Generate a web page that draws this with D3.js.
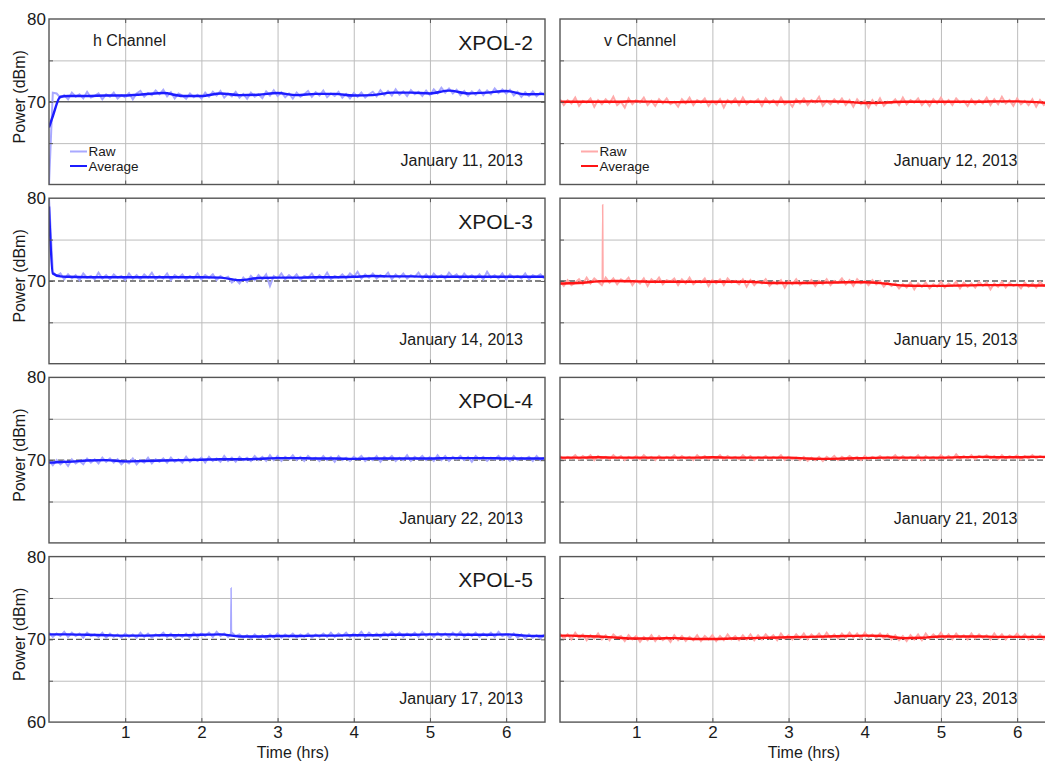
<!DOCTYPE html>
<html>
<head>
<meta charset="utf-8">
<script src="https://cdn.jsdelivr.net/npm/d3@7"></script>
<style>
  body { margin: 0; background: #fff; }
  text { font-family: "Liberation Sans", Arial, sans-serif; fill: #1a1a1a; }
</style>
</head>
<body>
<svg id="chart" width="1045" height="764"></svg>
<script>
// --- data ---
var stations = ["XPOL-2", "XPOL-3", "XPOL-4", "XPOL-5"];
var hDates = ["January 11, 2013", "January 14, 2013", "January 22, 2013", "January 17, 2013"];
var vDates = ["January 12, 2013", "January 15, 2013", "January 21, 2013", "January 23, 2013"];
var hourTicks = [1, 2, 3, 4, 5, 6];
var rawEnd = 6.5;   // raw samples evenly spread over 0..6.5 hrs

// time of each point of the averaged curves
var avgTime = [0, 0.05, 0.15, 0.25, 0.5, 0.75, 1, 1.25, 1.5, 1.75, 2, 2.25, 2.5, 2.75, 3, 3.25, 3.5, 3.75, 4, 4.25, 4.5, 4.75, 5, 5.25, 5.5, 5.75, 6, 6.25, 6.5];

var hAvg2 = [66.9, 68.25, 70.6, 70.7, 70.7, 70.75, 70.75, 70.9, 71.05, 70.7, 70.7, 71.0, 70.8, 70.85, 71.05, 70.8, 70.95, 70.95, 70.75, 70.8, 71.1, 71.1, 71.0, 71.35, 71.0, 71.1, 71.3, 70.9, 70.95];
var hAvg3 = [79.0, 70.9, 70.55, 70.5, 70.45, 70.45, 70.45, 70.45, 70.45, 70.45, 70.45, 70.4, 70.1, 70.35, 70.4, 70.4, 70.45, 70.45, 70.5, 70.6, 70.55, 70.55, 70.5, 70.5, 70.5, 70.5, 70.5, 70.5, 70.5];
var hAvg4 = [69.7, 69.72, 69.78, 69.8, 69.95, 70.0, 69.85, 69.9, 69.95, 70.0, 70.05, 70.1, 70.1, 70.15, 70.25, 70.25, 70.2, 70.2, 70.15, 70.2, 70.2, 70.2, 70.2, 70.25, 70.25, 70.25, 70.2, 70.2, 70.2];
var hAvg5 = [70.6, 70.6, 70.6, 70.6, 70.55, 70.5, 70.45, 70.45, 70.5, 70.5, 70.55, 70.6, 70.35, 70.35, 70.4, 70.4, 70.45, 70.45, 70.5, 70.5, 70.55, 70.55, 70.6, 70.6, 70.55, 70.55, 70.6, 70.45, 70.4];

var vAvg2 = [70.0, 70.0, 70.0, 70.0, 70.0, 70.0, 70.05, 70.0, 69.95, 70.0, 70.0, 70.0, 70.0, 70.0, 70.0, 70.05, 70.05, 70.0, 69.85, 69.9, 70.0, 70.0, 70.0, 70.0, 70.0, 70.05, 70.05, 69.95, 69.8];
var vAvg3 = [69.7, 69.7, 69.72, 69.75, 69.95, 70.0, 69.95, 69.9, 69.9, 69.9, 69.9, 69.9, 69.9, 69.75, 69.75, 69.75, 69.8, 69.85, 69.85, 69.7, 69.45, 69.4, 69.4, 69.45, 69.5, 69.5, 69.5, 69.45, 69.45];
var vAvg4 = [70.3, 70.3, 70.3, 70.3, 70.35, 70.3, 70.3, 70.3, 70.3, 70.3, 70.35, 70.3, 70.3, 70.3, 70.3, 70.2, 70.15, 70.2, 70.25, 70.3, 70.3, 70.3, 70.3, 70.35, 70.4, 70.35, 70.35, 70.4, 70.4];
var vAvg5 = [70.45, 70.45, 70.45, 70.4, 70.35, 70.2, 70.1, 70.1, 70.15, 70.05, 70.05, 70.1, 70.15, 70.2, 70.25, 70.3, 70.35, 70.4, 70.45, 70.4, 70.15, 70.2, 70.35, 70.35, 70.35, 70.3, 70.3, 70.3, 70.3];

var hRaw2 = [60.0, 71.1, 71.0, 70.5, 70.8, 70.3, 71.1, 70.6, 70.9, 70.4, 71.2, 70.5, 70.7, 71.0, 70.3, 70.9, 70.6, 71.1, 70.4, 70.8, 70.55, 71.05, 70.3, 71.0, 71.3, 70.6, 71.05, 70.8, 71.35, 70.9, 71.45, 70.65, 71.15, 70.4, 71.0, 70.75, 70.35, 71.0, 70.55, 70.85, 70.4, 71.1, 70.6, 71.2, 70.75, 71.3, 70.5, 71.0, 70.65, 71.2, 70.5, 70.95, 70.35, 71.1, 70.6, 70.9, 70.45, 71.25, 70.75, 71.4, 70.7, 71.15, 70.55, 71.0, 70.4, 71.1, 70.6, 70.9, 71.3, 70.6, 71.15, 70.75, 71.35, 70.55, 71.0, 70.7, 71.2, 70.5, 70.95, 70.4, 71.05, 70.6, 71.1, 70.5, 70.9, 71.2, 70.65, 71.4, 70.8, 71.3, 70.75, 71.5, 70.85, 71.25, 70.7, 71.4, 70.9, 71.2, 70.7, 71.35, 70.8, 71.5, 71.0, 71.7, 71.1, 71.6, 71.0, 71.45, 70.8, 71.3, 70.7, 71.25, 70.85, 71.4, 70.8, 71.35, 70.9, 71.6, 71.05, 71.5, 71.0, 71.45, 70.75, 71.2, 70.6, 71.15, 70.7, 71.25, 70.65, 71.1, 70.8];
var hRaw3 = [80.0, 71.1, 70.6, 70.9, 70.2, 70.8, 70.3, 70.7, 70.1, 70.9, 70.4, 70.6, 70.2, 71.0, 70.3, 70.7, 70.2, 70.8, 70.4, 70.6, 70.1, 70.9, 70.3, 70.7, 70.2, 70.8, 70.4, 71.0, 70.2, 70.6, 70.3, 70.9, 70.1, 70.7, 70.4, 70.8, 70.2, 70.6, 70.3, 70.9, 70.2, 70.7, 70.4, 70.8, 70.1, 70.6, 70.3, 70.5, 69.8, 70.2, 69.7, 70.4, 69.9, 70.6, 70.1, 70.7, 70.2, 70.8, 69.4, 70.6, 70.3, 70.9, 70.2, 70.7, 70.3, 70.8, 70.1, 70.6, 70.4, 70.9, 70.2, 70.7, 70.3, 71.0, 70.2, 70.6, 70.4, 70.8, 70.3, 70.9, 70.5, 71.1, 70.3, 70.8, 70.4, 70.9, 70.3, 70.7, 70.5, 71.0, 70.2, 70.8, 70.4, 70.9, 70.3, 70.7, 70.5, 71.0, 70.3, 70.8, 70.2, 70.9, 70.4, 70.7, 70.3, 71.0, 70.5, 70.8, 70.2, 70.9, 70.4, 70.7, 70.3, 70.8, 70.2, 71.1, 70.4, 70.7, 70.3, 70.9, 70.2, 70.8, 70.4, 70.6, 70.3, 70.9, 70.2, 70.7, 70.5, 70.8, 70.3];
var hRaw4 = [69.9, 69.4, 70.0, 69.5, 69.9, 69.3, 70.1, 69.6, 69.9, 69.5, 70.2, 69.7, 70.1, 69.6, 70.3, 69.8, 70.2, 69.7, 70.1, 69.5, 69.9, 69.6, 70.2, 69.5, 70.0, 69.7, 70.3, 69.6, 70.1, 69.8, 70.2, 69.7, 70.3, 69.8, 70.1, 69.7, 70.4, 69.8, 70.2, 69.9, 70.3, 69.7, 70.4, 69.9, 70.2, 69.8, 70.5, 69.9, 70.3, 69.8, 70.4, 70.0, 70.3, 69.9, 70.5, 70.0, 70.4, 69.9, 70.6, 70.0, 70.5, 69.9, 70.4, 70.1, 70.6, 70.0, 70.4, 69.9, 70.5, 70.1, 70.3, 69.9, 70.5, 70.0, 70.4, 69.8, 70.5, 70.0, 70.3, 69.9, 70.4, 70.1, 70.5, 69.9, 70.3, 70.0, 70.5, 69.8, 70.4, 70.1, 70.5, 69.9, 70.3, 70.0, 70.6, 69.9, 70.4, 70.1, 70.5, 70.0, 70.4, 69.9, 70.6, 70.0, 70.5, 69.9, 70.4, 70.1, 70.5, 70.0, 70.4, 69.8, 70.5, 70.1, 70.4, 69.9, 70.3, 70.1, 70.5, 70.0, 70.4, 69.9, 70.5, 70.0, 70.3, 70.1, 70.4, 69.9, 70.5, 70.0, 70.3];
var hRaw5 = [70.8, 70.3, 70.7, 70.4, 70.9, 70.3, 70.8, 70.4, 70.7, 70.2, 70.8, 70.4, 70.6, 70.3, 70.8, 70.2, 70.7, 70.3, 70.6, 70.2, 70.7, 70.3, 70.6, 70.2, 70.8, 70.3, 70.7, 70.2, 70.6, 70.4, 70.8, 70.3, 70.7, 70.2, 70.6, 70.3, 70.7, 70.2, 70.8, 70.3, 70.7, 70.4, 70.8, 70.3, 70.9, 70.4, 70.7, 70.3, 70.8, 70.4, 70.6, 70.2, 70.5, 70.1, 70.6, 70.2, 70.5, 70.1, 70.6, 70.2, 70.7, 70.2, 70.6, 70.3, 70.7, 70.2, 70.6, 70.3, 70.7, 70.2, 70.6, 70.3, 70.7, 70.3, 70.8, 70.3, 70.7, 70.4, 70.8, 70.3, 70.7, 70.4, 70.9, 70.3, 70.8, 70.4, 70.7, 70.3, 70.8, 70.4, 70.9, 70.4, 70.8, 70.3, 70.7, 70.4, 70.8, 70.3, 70.9, 70.4, 70.7, 70.3, 70.8, 70.4, 70.7, 70.3, 70.8, 70.4, 70.9, 70.3, 70.7, 70.4, 70.8, 70.3, 70.7, 70.4, 70.8, 70.3, 70.9, 70.4, 70.6, 70.2, 70.7, 70.2, 70.6, 70.1, 70.6, 70.2, 70.5, 70.1, 70.6];

var vRaw2 = [70.3, 69.6, 70.2, 69.8, 70.5, 69.5, 70.1, 69.9, 70.4, 69.4, 70.2, 69.7, 70.3, 69.8, 70.6, 69.6, 70.0, 69.3, 70.4, 69.7, 70.2, 69.9, 70.5, 69.6, 70.1, 69.5, 70.3, 69.8, 70.4, 69.7, 70.0, 69.4, 70.3, 69.8, 70.5, 69.6, 70.2, 69.9, 70.4, 69.5, 70.1, 69.7, 70.3, 69.3, 70.2, 69.8, 70.4, 69.6, 70.5, 69.7, 70.1, 69.9, 70.3, 69.5, 70.4, 69.8, 70.2, 69.6, 70.5, 69.7, 70.0, 69.4, 70.3, 69.8, 70.4, 69.6, 70.2, 69.9, 70.6, 69.5, 70.1, 69.7, 70.3, 69.8, 70.4, 69.6, 70.2, 69.4, 70.3, 69.7, 70.1, 69.3, 70.2, 69.6, 70.4, 69.5, 70.0, 69.8, 70.3, 69.6, 70.5, 69.7, 70.2, 69.9, 70.4, 69.6, 70.1, 69.5, 70.3, 69.8, 70.5, 69.7, 70.2, 69.6, 70.4, 69.9, 70.1, 69.5, 70.3, 69.7, 70.2, 69.8, 70.5, 69.6, 70.3, 69.7, 70.6, 69.8, 70.2, 69.5, 70.4, 69.7, 70.1, 69.6, 70.3, 69.4, 70.2, 69.6, 70.0, 69.5, 69.9];
var vRaw3 = [69.9, 69.4, 70.1, 69.5, 69.8, 70.2, 69.6, 70.4, 69.7, 70.3, 69.9, 69.5, 70.4, 69.8, 70.3, 69.6, 70.2, 69.9, 70.4, 69.5, 70.1, 69.7, 70.3, 69.4, 70.2, 69.8, 70.4, 69.6, 70.1, 69.9, 70.3, 69.5, 70.2, 69.7, 70.4, 69.6, 70.0, 69.8, 70.3, 69.4, 70.1, 69.7, 70.2, 69.5, 70.3, 69.8, 70.0, 69.6, 70.2, 69.3, 70.1, 69.5, 70.0, 69.7, 70.2, 69.4, 69.9, 69.6, 70.1, 69.2, 70.0, 69.6, 70.2, 69.5, 69.9, 69.7, 70.1, 69.4, 70.0, 69.6, 70.2, 69.5, 70.0, 69.8, 70.3, 69.6, 70.1, 69.4, 70.2, 69.7, 70.0, 69.5, 70.1, 69.6, 70.0, 69.3, 69.8, 69.4, 69.7, 69.1, 69.6, 69.2, 69.8, 69.0, 69.7, 69.3, 69.8, 69.1, 69.6, 69.3, 69.9, 69.2, 69.7, 69.4, 69.9, 69.1, 69.8, 69.3, 69.7, 69.2, 69.9, 69.4, 69.8, 69.0, 69.7, 69.3, 69.9, 69.2, 69.8, 69.4, 69.6, 69.1, 69.8, 69.3, 69.7, 69.2, 69.9, 69.4, 69.6, 69.2, 69.8];
var vRaw4 = [70.5, 70.1, 70.4, 70.2, 70.6, 70.1, 70.5, 70.2, 70.6, 70.0, 70.5, 70.2, 70.4, 70.1, 70.6, 70.2, 70.5, 70.0, 70.4, 70.2, 70.5, 70.1, 70.6, 70.2, 70.4, 70.0, 70.5, 70.1, 70.4, 70.2, 70.6, 70.1, 70.5, 70.2, 70.4, 70.0, 70.6, 70.2, 70.5, 70.1, 70.4, 70.2, 70.6, 70.1, 70.5, 70.2, 70.4, 70.1, 70.6, 70.2, 70.5, 70.0, 70.4, 70.2, 70.5, 70.1, 70.4, 70.2, 70.6, 70.0, 70.4, 70.1, 70.3, 70.0, 70.4, 69.9, 70.3, 70.0, 70.4, 69.9, 70.4, 70.1, 70.5, 70.0, 70.4, 70.1, 70.5, 70.2, 70.4, 70.0, 70.5, 70.1, 70.4, 70.2, 70.5, 70.1, 70.4, 70.2, 70.6, 70.1, 70.5, 70.1, 70.4, 70.2, 70.6, 70.0, 70.5, 70.2, 70.4, 70.1, 70.6, 70.2, 70.5, 70.1, 70.7, 70.2, 70.5, 70.2, 70.6, 70.1, 70.5, 70.3, 70.6, 70.2, 70.5, 70.1, 70.6, 70.2, 70.5, 70.3, 70.6, 70.1, 70.5, 70.2, 70.6, 70.2, 70.5, 70.3, 70.6, 70.2, 70.5];
var vRaw5 = [70.7, 70.1, 70.6, 70.0, 70.8, 70.2, 70.6, 69.9, 70.5, 70.1, 70.7, 70.0, 70.5, 69.9, 70.6, 70.2, 70.4, 69.8, 70.5, 70.0, 70.4, 69.7, 70.3, 69.9, 70.5, 69.8, 70.4, 69.9, 70.3, 69.7, 70.5, 69.9, 70.4, 69.8, 70.3, 69.9, 70.5, 69.8, 70.4, 70.0, 70.5, 69.8, 70.4, 69.9, 70.6, 70.0, 70.4, 69.9, 70.5, 70.0, 70.6, 69.9, 70.5, 70.0, 70.6, 70.1, 70.5, 69.9, 70.7, 70.1, 70.5, 70.0, 70.6, 70.1, 70.7, 70.0, 70.6, 70.2, 70.7, 70.1, 70.8, 70.2, 70.6, 70.1, 70.7, 70.2, 70.8, 70.2, 70.7, 70.1, 70.8, 70.3, 70.6, 70.2, 70.7, 70.1, 70.6, 70.0, 70.5, 69.9, 70.4, 69.8, 70.5, 70.0, 70.6, 69.9, 70.7, 70.1, 70.6, 70.2, 70.8, 70.1, 70.6, 70.0, 70.7, 70.2, 70.5, 70.0, 70.7, 70.1, 70.6, 70.2, 70.5, 70.0, 70.7, 70.1, 70.6, 70.0, 70.5, 70.2, 70.7, 70.1, 70.6, 70.0, 70.5, 70.1, 70.6, 70.0, 70.5, 70.1, 70.6];

// isolated one-sample spikes in the raw records
var vSpike3Time = [0.555, 0.56, 0.565], vSpike3 = [70.0, 79.2, 70.0];
var hSpike5Time = [2.385, 2.39, 2.395], hSpike5 = [70.6, 76.2, 70.6];

var hRaw = [hRaw2, hRaw3, hRaw4, hRaw5], hAvg = [hAvg2, hAvg3, hAvg4, hAvg5];
var vRaw = [vRaw2, vRaw3, vRaw4, vRaw5], vAvg = [vAvg2, vAvg3, vAvg4, vAvg5];

var colors = {
    h: {raw: "#a9a9ff", avg: "#1c1cff"},
    v: {raw: "#ffaaaa", avg: "#ff1414"}
};

// --- layout ---
var left = 49, top0 = 19, pw = 496, ph = 165.5, colStep = 511, rowStep = 179.2;

var x = d3.scaleLinear().domain([0, 6.51]).range([0, pw]);
var y = d3.scaleLinear().domain([60, 80]).range([ph, 0]);

var svg = d3.select("#chart");

var rawLine = function(vals) {
    var n = vals.length;
    return d3.line()
        .x(function(d, j) { return x(j * rawEnd / (n - 1)); })
        .y(function(d) { return y(d); })(vals);
};
var tLine = function(times, vals) {
    return d3.line()
        .x(function(d, j) { return x(times[j]); })
        .y(function(d) { return y(d); })
        .curve(d3.curveMonotoneX)(vals);
};

var panels = [];
for (var r = 0; r < 4; r++) {
    panels.push({row: r, col: 0, ch: "h", raw: hRaw[r], avg: hAvg[r], date: hDates[r], station: stations[r]});
    panels.push({row: r, col: 1, ch: "v", raw: vRaw[r], avg: vAvg[r], date: vDates[r]});
}

panels.forEach(function(p, i) {
    var g = svg.append("g")
        .attr("transform", "translate(" + (left + p.col * colStep) + "," + (top0 + p.row * rowStep) + ")");
    var col = colors[p.ch];

    g.append("clipPath").attr("id", "clip" + i)
        .append("rect").attr("width", pw).attr("height", ph);

    // grid
    var gx = g.append("g")
        .call(d3.axisBottom(x).tickValues(hourTicks).tickSize(ph).tickFormat(""));
    var gy = g.append("g")
        .call(d3.axisLeft(y).tickValues([65, 75]).tickSize(-pw).tickFormat(""));
    [gx, gy].forEach(function(a) {
        a.select(".domain").remove();
        a.selectAll("line").attr("stroke", "#bdbdbd").attr("stroke-width", 1);
    });

    // 70 dBm reference
    g.append("line")
        .attr("x1", 0).attr("x2", pw)
        .attr("y1", y(70)).attr("y2", y(70))
        .attr("stroke", "#5a5a5a").attr("stroke-width", 1.4)
        .attr("stroke-dasharray", p.row == 0 && p.col == 0 ? null : "6,3");

    var plot = g.append("g").attr("clip-path", "url(#clip" + i + ")");
    plot.append("path")
        .attr("d", rawLine(p.raw))
        .attr("fill", "none").attr("stroke", col.raw).attr("stroke-width", 2);
    if (p.row == 1 && p.col == 1) {
        plot.append("path").attr("d", tLine(vSpike3Time, vSpike3))
            .attr("fill", "none").attr("stroke", col.raw).attr("stroke-width", 1.5);
    }
    if (p.row == 3 && p.col == 0) {
        plot.append("path").attr("d", tLine(hSpike5Time, hSpike5))
            .attr("fill", "none").attr("stroke", col.raw).attr("stroke-width", 1.5);
    }
    plot.append("path")
        .attr("d", tLine(avgTime, p.avg))
        .attr("fill", "none").attr("stroke", col.avg).attr("stroke-width", 2.4);

    // inward tick marks on all four sides
    var tickStyle = function(a) {
        a.select(".domain").remove();
        a.selectAll("line").attr("stroke", "#555");
    };
    g.append("g").call(d3.axisBottom(x).tickValues(hourTicks).tickSize(4).tickFormat("")).call(tickStyle);
    g.append("g").attr("transform", "translate(0," + ph + ")")
        .call(d3.axisTop(x).tickValues(hourTicks).tickSize(4).tickFormat("")).call(tickStyle);
    g.append("g").call(d3.axisRight(y).tickValues([65, 70, 75]).tickSize(4).tickFormat("")).call(tickStyle);
    g.append("g").attr("transform", "translate(" + pw + ",0)")
        .call(d3.axisLeft(y).tickValues([65, 70, 75]).tickSize(4).tickFormat("")).call(tickStyle);

    // frame
    g.append("rect").attr("width", pw).attr("height", ph)
        .attr("fill", "none").attr("stroke", "#555").attr("stroke-width", 1.4);

    // y labels on the left column
    if (p.col == 0) {
        var ya = g.append("g")
            .call(d3.axisLeft(y).tickValues(p.row == 3 ? [80, 70, 60] : [80, 70]).tickSize(0).tickPadding(3));
        ya.select(".domain").remove();
        ya.selectAll("text").attr("font-size", 17).attr("font-family", "Liberation Sans, Arial, sans-serif").attr("fill", "#1a1a1a");

        g.append("text")
            .attr("transform", "translate(-24," + (ph / 2 - 5) + ") rotate(-90)")
            .attr("text-anchor", "middle")
            .attr("font-size", 16)
            .text("Power (dBm)");
    }

    // x labels on the bottom row
    if (p.row == 3) {
        var xa = g.append("g").attr("transform", "translate(0," + ph + ")")
            .call(d3.axisBottom(x).tickValues(hourTicks).tickSize(0).tickPadding(4).tickFormat(d3.format("d")));
        xa.select(".domain").remove();
        xa.selectAll("text").attr("font-size", 17).attr("font-family", "Liberation Sans, Arial, sans-serif").attr("fill", "#1a1a1a");

        g.append("text")
            .attr("x", pw / 2 - 4).attr("y", ph + 35.5)
            .attr("text-anchor", "middle")
            .attr("font-size", 16)
            .text("Time (hrs)");
    }

    // station name and date
    if (p.station) {
        g.append("text")
            .attr("x", 484).attr("y", 30.5)
            .attr("text-anchor", "end")
            .attr("font-size", 21)
            .text(p.station);
    }
    g.append("text")
        .attr("x", p.col == 0 ? 474 : 457.5).attr("y", 147)
        .attr("text-anchor", "end")
        .attr("font-size", 16)
        .text(p.date);

    // channel title and legend in the top row
    if (p.row == 0) {
        g.append("text")
            .attr("x", 44).attr("y", 27)
            .attr("font-size", 16)
            .text(p.ch + " Channel");

        var leg = [["Raw", col.raw], ["Average", col.avg]];
        leg.forEach(function(l, k) {
            g.append("line")
                .attr("x1", 21).attr("x2", 38)
                .attr("y1", 132.5 + k * 14.5).attr("y2", 132.5 + k * 14.5)
                .attr("stroke", l[1]).attr("stroke-width", 2);
            g.append("text")
                .attr("x", 39.5).attr("y", 137 + k * 14.5)
                .attr("font-size", 13.5)
                .text(l[0]);
        });
    }
});
</script>
</body>
</html>
